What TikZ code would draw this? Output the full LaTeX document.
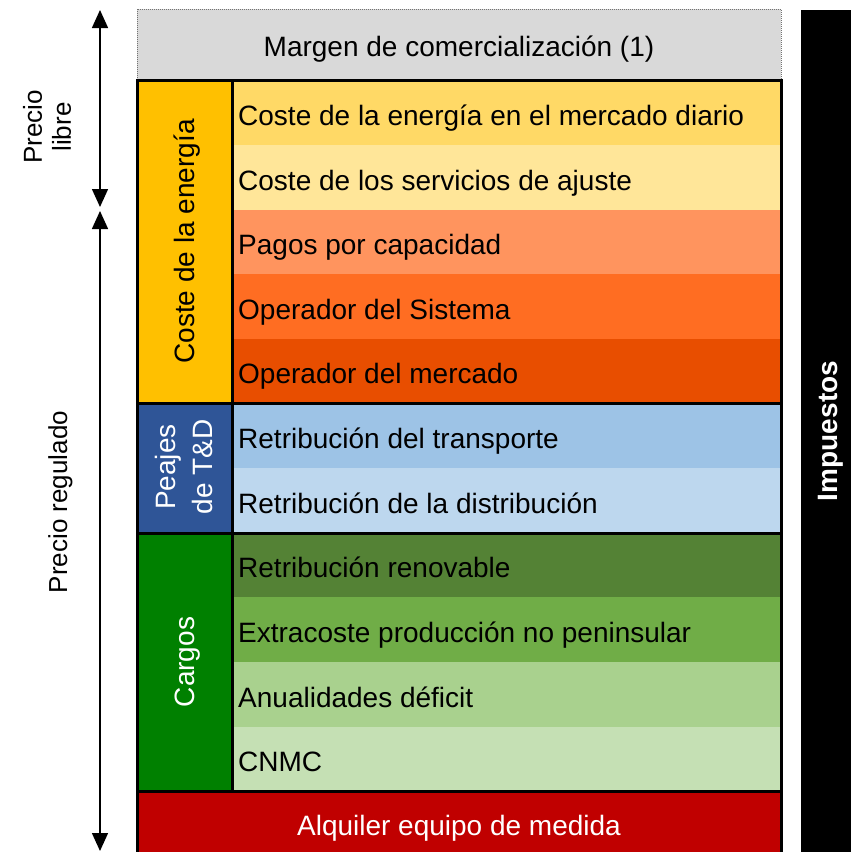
\documentclass[tikz,border=0pt]{standalone}
\usepackage{fontspec}
\setmainfont{Liberation Sans}
\usetikzlibrary{arrows.meta}

\definecolor{margengray}{HTML}{D9D9D9}
\definecolor{energia}{HTML}{FFC000}
\definecolor{diario}{HTML}{FFD966}
\definecolor{ajuste}{HTML}{FFE699}
\definecolor{capacidad}{HTML}{FF945E}
\definecolor{opsistema}{HTML}{FF6D22}
\definecolor{opmercado}{HTML}{E84E00}
\definecolor{peajes}{HTML}{2F5597}
\definecolor{transporte}{HTML}{9DC3E6}
\definecolor{distribucion}{HTML}{BDD7EE}
\definecolor{cargos}{HTML}{008000}
\definecolor{renovable}{HTML}{548235}
\definecolor{extracoste}{HTML}{70AD47}
\definecolor{deficit}{HTML}{A9D18E}
\definecolor{cnmc}{HTML}{C5E0B4}
\definecolor{alquiler}{HTML}{C00000}

\tikzset{
  rowtext/.style={anchor=base west, inner sep=0pt, font=\fontsize{28}{32}\selectfont},
  sidetext/.style={rotate=90, align=center, inner sep=0pt, font=\fontsize{28}{37}\selectfont},
  pricetext/.style={rotate=90, align=center, inner sep=0pt, font=\fontsize{26}{29}\selectfont},
  frame/.style={line width=3pt},
  pricearrow/.style={line width=1.5pt, {Triangle[length=18pt,width=16pt]}-{Triangle[length=18pt,width=16pt]}},
}

\begin{document}
\begin{tikzpicture}[x=1pt,y=-1pt]
\useasboundingbox (0,0) rectangle (851,852);

% Margen
\filldraw[fill=margengray, draw=black!55, densely dotted, line width=1pt] (137,9) rectangle (781,80);
\node[rowtext, anchor=base] (margen) at (459,56) {Margen de comercializaci\'on (1)};

% Coste de la energia
\fill[energia] (137,80) rectangle (232,403);
\fill[diario] (232,80) rectangle (781,145);
\fill[ajuste] (232,145) rectangle (781,210);
\fill[capacidad] (232,210) rectangle (781,274);
\fill[opsistema] (232,274) rectangle (781,339);
\fill[opmercado] (232,339) rectangle (781,403);
\node[sidetext, anchor=base] (energia) at (194,241.5) {Coste de la energ\'ia};
\node[rowtext] (diario) at (238,125) {Coste de la energ\'ia en el mercado diario};
\node[rowtext] (ajuste) at (238,190) {Coste de los servicios de ajuste};
\node[rowtext] (capacidad) at (238,254.5) {Pagos por capacidad};
\node[rowtext] (opsistema) at (238,319) {Operador del Sistema};
\node[rowtext] (opmercado) at (238,383.5) {Operador del mercado};

% Peajes
\fill[peajes] (137,403) rectangle (232,533);
\fill[transporte] (232,403) rectangle (781,468);
\fill[distribucion] (232,468) rectangle (781,533);
\node[sidetext, text=white] (peajes) at (184,467) {Peajes\\de T\&D};
\node[rowtext] (transporte) at (238,448) {Retribuci\'on del transporte};
\node[rowtext] (distribucion) at (238,513) {Retribuci\'on de la distribuci\'on};

% Cargos
\fill[cargos] (137,533) rectangle (232,791);
\fill[renovable] (232,533) rectangle (781,597);
\fill[extracoste] (232,597) rectangle (781,662);
\fill[deficit] (232,662) rectangle (781,727);
\fill[cnmc] (232,727) rectangle (781,791);
\node[sidetext, text=white, anchor=base] (cargos) at (194,662) {Cargos};
\node[rowtext] (renovable) at (238,577.5) {Retribuci\'on renovable};
\node[rowtext] (extracoste) at (238,642) {Extracoste producci\'on no peninsular};
\node[rowtext] (deficit) at (238,707) {Anualidades d\'eficit};
\node[rowtext] (cnmc) at (238,771.5) {CNMC};

% Alquiler
\fill[alquiler] (137,791) rectangle (781,852);
\node[rowtext, anchor=base, text=white] (alquiler) at (459,835) {Alquiler equipo de medida};

% borders
\draw[frame] (137,80) rectangle (781,791);
\draw[frame] (137,852) -- (137,791) -- (781,791) -- (781,852);
\draw[frame] (232,80) -- (232,791);
\draw[frame] (137,403) -- (781,403);
\draw[frame] (137,533) -- (781,533);

% Impuestos
\fill[black] (801,10) rectangle (851,852);
\node[sidetext, anchor=base, text=white, font=\fontsize{28}{34}\selectfont\bfseries] (impuestos) at (837,431) {Impuestos};

% Precio libre / regulado
\coordinate (libretop) at (100,10);
\coordinate (librebot) at (100,207);
\coordinate (regtop) at (100,211);
\coordinate (regbot) at (100,851);
\draw[pricearrow] (libretop) -- (librebot);
\draw[pricearrow] (regtop) -- (regbot);
\node[pricetext] (libre) at (47,127) {Precio\\libre};
\node[pricetext, anchor=base] (regulado) at (67,502) {Precio regulado};
\end{tikzpicture}
\end{document}
